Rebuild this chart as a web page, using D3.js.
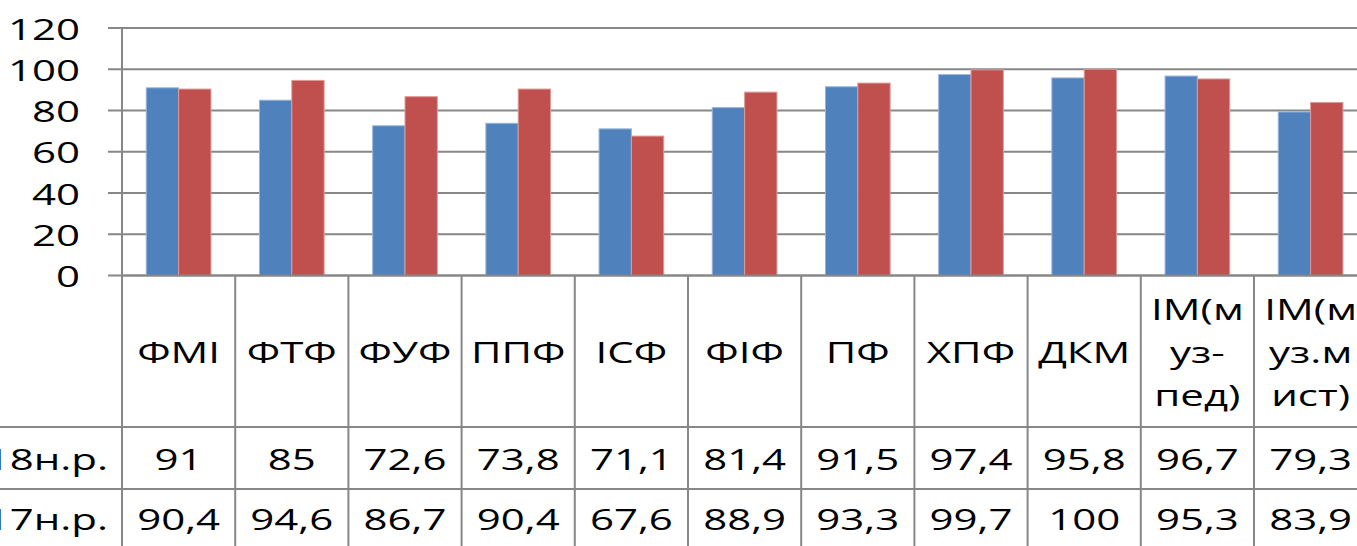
<!DOCTYPE html>
<html><head><meta charset="utf-8">
<script src="https://cdn.jsdelivr.net/npm/d3@7"></script>
<style>html,body{margin:0;padding:0;background:#fff;overflow:hidden}</style>
</head><body>
<svg id="c" width="1357" height="546"></svg>
<script>
const categories = ["ФМІ","ФТФ","ФУФ","ППФ","ІСФ","ФІФ","ПФ","ХПФ","ДКМ","ІМ(муз-пед)","ІМ(муз.мист)"];
const categoryLines = [["ФМІ"],["ФТФ"],["ФУФ"],["ППФ"],["ІСФ"],["ФІФ"],["ПФ"],["ХПФ"],["ДКМ"],["ІМ(м","уз-","пед)"],["ІМ(м","уз.м","ист)"]];
const seriesNames = ["2018н.р.","2017н.р."];
const series2018 = [91,85,72.6,73.8,71.1,81.4,91.5,97.4,95.8,96.7,79.3];
const series2017 = [90.4,94.6,86.7,90.4,67.6,88.9,93.3,99.7,100,95.3,83.9];
const yTicks = [0,20,40,60,80,100,120];
const colors = ["#4F81BD","#C0504D"];
const strokes = ["#9ab5da","#dc9c9a"];

const svg = d3.select("#c");
const FONT = "'Open Sans', sans-serif";
const FS = 30, SX = 1.4;
const left = 122, step = 113.2;
const yTop = 28, yBase = 275.5;
const row1 = 427, row2 = 489;
const x0 = d3.scaleBand().domain(categories).range([left, left + step*categories.length]).padding(0);
const x1 = d3.scaleBand().domain([0,1]).range([0, x0.bandwidth()]).paddingInner(0).paddingOuter(0.75);
const y = d3.scaleLinear().domain([0,120]).range([yBase, yTop]);
const gridC = "#878787";

function txt(g, s, x, yy, anchor){
  g.append("text").attr("transform", `translate(${x},${yy}) scale(${SX},1)`)
   .attr("text-anchor", anchor).attr("dominant-baseline","central")
   .attr("font-family", FONT).attr("font-size", FS).attr("fill","#000").text(s);
}

// gridlines + tick marks
svg.append("g").selectAll("line").data(yTicks).join("line")
  .attr("x1", 108).attr("x2", 1357).attr("y1", d=>y(d)).attr("y2", d=>y(d))
  .attr("stroke", gridC).attr("stroke-width", 2);

// y tick labels
const yl = svg.append("g");
yTicks.forEach(t => txt(yl, String(t), 80, y(t), "end"));

// bars
const data = [series2018, series2017];
const gb = svg.append("g");
data.forEach((arr, si) => {
  gb.selectAll(null).data(arr).join("rect")
    .attr("x", (d,i)=> x0(categories[i]) + x1(si))
    .attr("y", d=> y(d)).attr("width", x1.bandwidth()).attr("height", d=> yBase - y(d))
    .attr("fill", colors[si]).attr("stroke", strokes[si]).attr("stroke-width", 1);
});

// axis line (vertical)
svg.append("line").attr("x1", left).attr("x2", left).attr("y1", yTop).attr("y2", 546)
  .attr("stroke", gridC).attr("stroke-width", 2);

// table lines
const tl = svg.append("g");
categories.forEach((c,i) => {
  const xr = x0(c) + x0.bandwidth();
  tl.append("line").attr("x1", xr).attr("x2", xr).attr("y1", yBase).attr("y2", 546)
    .attr("stroke", gridC).attr("stroke-width", 2);
});
[row1, row2].forEach(r => tl.append("line").attr("x1", 0).attr("x2", 1357).attr("y1", r).attr("y2", r)
    .attr("stroke", gridC).attr("stroke-width", 2));
svg.append("line").attr("x1", left).attr("x2", 1357).attr("y1", yBase).attr("y2", yBase)
    .attr("stroke", gridC).attr("stroke-width", 2);

// category labels
const cl = svg.append("g");
const lh = 43;
categoryLines.forEach((lines, i) => {
  const cx = x0(categories[i]) + x0.bandwidth()/2;
  const mid = (yBase + row1)/2;
  lines.forEach((ln, j) => txt(cl, ln, cx, mid + (j - (lines.length-1)/2)*lh, "middle"));
});

// values rows
const fmt = v => String(v).replace(".", ",");
const rowsY = [(row1+row2)/2, row2 + 29];
data.forEach((arr, si) => {
  txt(cl, seriesNames[si], 108, rowsY[si], "end");
  arr.forEach((v,i) => txt(cl, fmt(v), x0(categories[i]) + x0.bandwidth()/2, rowsY[si], "middle"));
});
</script>
</body></html>
